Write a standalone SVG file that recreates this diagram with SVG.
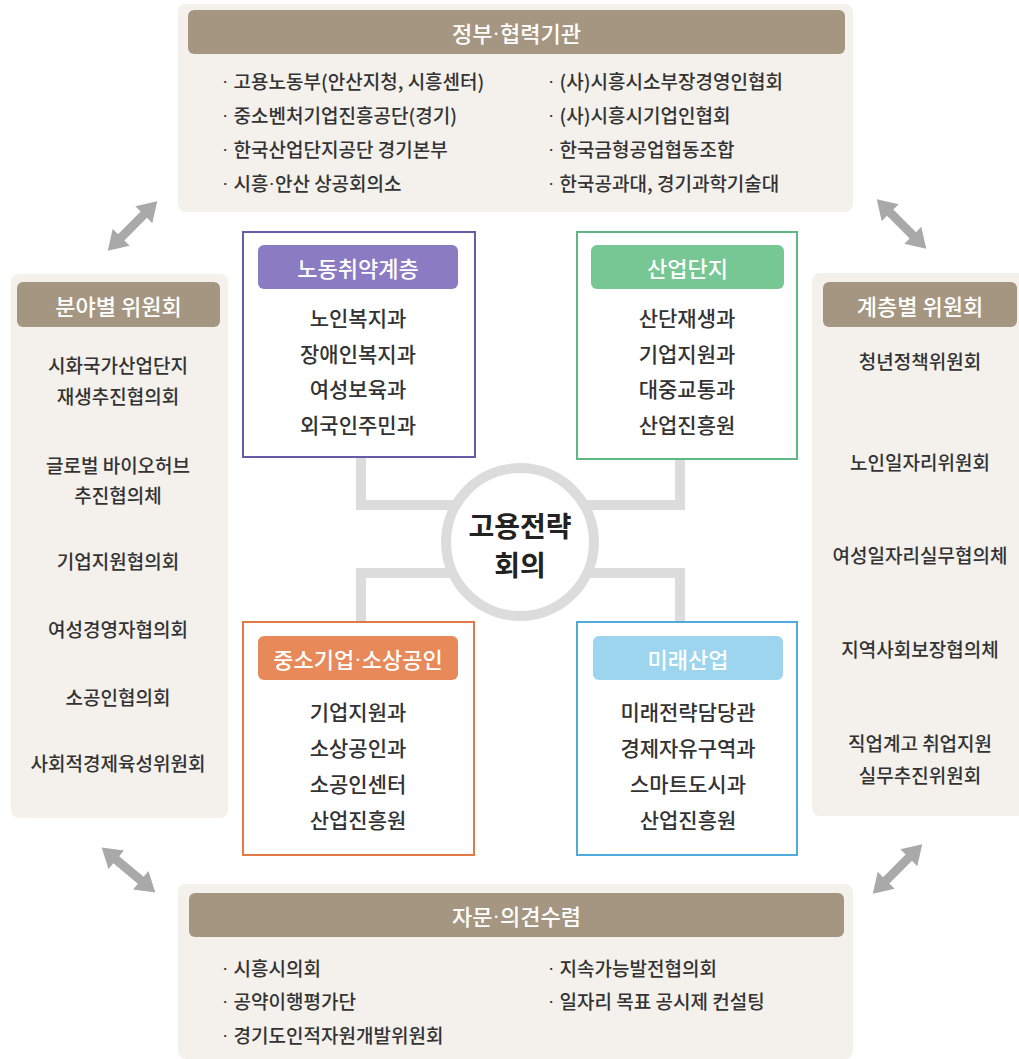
<svg xmlns="http://www.w3.org/2000/svg" width="1019" height="1059" viewBox="0 0 1019 1059">
<defs>
<style>
.panel{fill:#f4f0ec}
.hdr{fill:#a59682}
.ht{font-family:"Noto Sans CJK KR","Noto Sans",sans-serif;font-size:22px;font-weight:500;fill:#fff;text-anchor:middle;dominant-baseline:central}
.li{font-family:"Noto Sans CJK KR","Noto Sans",sans-serif;font-size:19px;font-weight:500;fill:#333;dominant-baseline:central}
.pi{font-family:"Noto Sans CJK KR","Noto Sans",sans-serif;font-size:19px;font-weight:500;fill:#333;text-anchor:middle;dominant-baseline:central}
.bi{font-family:"Noto Sans CJK KR","Noto Sans",sans-serif;font-size:21px;font-weight:500;fill:#333;text-anchor:middle;dominant-baseline:central}
.ct{font-family:"Noto Sans CJK KR","Noto Sans",sans-serif;font-size:28px;font-weight:bold;fill:#222;text-anchor:middle;dominant-baseline:central}
.d{font-family:"Liberation Sans",sans-serif}
.conn{stroke:#dcdcdc;stroke-width:10;fill:none}
.arr{fill:#a9a9a9}
.box{fill:#fff;stroke-width:2}
</style>
<path id="dbl" d="M-35,0 L-16,-12 L-16,-4.5 L16,-4.5 L16,-12 L35,0 L16,12 L16,4.5 L-16,4.5 L-16,12 Z"/>
</defs>
<rect width="1019" height="1059" fill="#fff"/>

<g id="connectors">
<path class="conn" d="M361,457 V505 H520"/>
<path class="conn" d="M680,459 V505 H520"/>
<path class="conn" d="M361,622 V573 H520"/>
<path class="conn" d="M680,622 V573 H520"/>
<use href="#dbl" class="arr" transform="translate(132.5,226) rotate(-45)"/>
<use href="#dbl" class="arr" transform="translate(901.5,224) rotate(45)"/>
<use href="#dbl" class="arr" transform="translate(128.5,870) rotate(40)"/>
<use href="#dbl" class="arr" transform="translate(897.5,869) rotate(-45)"/>
</g>

<g id="gov">
<rect class="panel" x="178" y="4" width="675" height="208" rx="8"/>
<rect class="hdr" x="188" y="10" width="657" height="44" rx="6"/>
<text class="ht" x="516.5" y="32">정부<tspan class="d">·</tspan>협력기관</text>
<text class="li" x="222" y="80"><tspan class="d">· </tspan>고용노동부(안산지청, 시흥센터)</text>
<text class="li" x="222" y="114"><tspan class="d">· </tspan>중소벤처기업진흥공단(경기)</text>
<text class="li" x="222" y="148"><tspan class="d">· </tspan>한국산업단지공단 경기본부</text>
<text class="li" x="222" y="182"><tspan class="d">· </tspan>시흥<tspan class="d">·</tspan>안산 상공회의소</text>
<text class="li" x="548" y="80"><tspan class="d">· </tspan>(사)시흥시소부장경영인협회</text>
<text class="li" x="548" y="114"><tspan class="d">· </tspan>(사)시흥시기업인협회</text>
<text class="li" x="548" y="148"><tspan class="d">· </tspan>한국금형공업협동조합</text>
<text class="li" x="548" y="182"><tspan class="d">· </tspan>한국공과대, 경기과학기술대</text>
</g>

<g id="field">
<rect class="panel" x="11" y="274" width="217" height="544" rx="8"/>
<rect class="hdr" x="17" y="282" width="203" height="45" rx="6"/>
<text class="ht" x="118.5" y="304.5">분야별 위원회</text>
<text class="pi" x="118" y="364">시화국가산업단지</text>
<text class="pi" x="118" y="395">재생추진협의회</text>
<text class="pi" x="118" y="464">글로벌 바이오허브</text>
<text class="pi" x="118" y="494">추진협의체</text>
<text class="pi" x="118" y="560">기업지원협의회</text>
<text class="pi" x="118" y="628">여성경영자협의회</text>
<text class="pi" x="118" y="696">소공인협의회</text>
<text class="pi" x="118" y="762">사회적경제육성위원회</text>
</g>

<g id="tier">
<rect class="panel" x="812" y="273" width="215" height="543" rx="8"/>
<rect class="hdr" x="823" y="282" width="194" height="45" rx="6"/>
<text class="ht" x="920" y="304.5">계층별 위원회</text>
<text class="pi" x="920" y="360">청년정책위원회</text>
<text class="pi" x="920" y="461">노인일자리위원회</text>
<text class="pi" x="920" y="554">여성일자리실무협의체</text>
<text class="pi" x="920" y="648">지역사회보장협의체</text>
<text class="pi" x="920" y="742">직업계고 취업지원</text>
<text class="pi" x="920" y="774">실무추진위원회</text>
</g>

<g id="advice">
<rect class="panel" x="178" y="884" width="675" height="175" rx="8"/>
<rect class="hdr" x="189" y="893" width="655" height="44" rx="6"/>
<text class="ht" x="516.5" y="915">자문<tspan class="d">·</tspan>의견수렴</text>
<text class="li" x="222" y="967"><tspan class="d">· </tspan>시흥시의회</text>
<text class="li" x="222" y="1000"><tspan class="d">· </tspan>공약이행평가단</text>
<text class="li" x="222" y="1034"><tspan class="d">· </tspan>경기도인적자원개발위원회</text>
<text class="li" x="548" y="967"><tspan class="d">· </tspan>지속가능발전협의회</text>
<text class="li" x="548" y="1000"><tspan class="d">· </tspan>일자리 목표 공시제 컨설팅</text>
</g>

<g id="labor">
<rect class="box" x="243" y="232" width="232" height="225" stroke="#6a5ba6"/>
<rect x="258" y="245" width="200" height="44" rx="6" fill="#8a7bc2"/>
<text class="ht" x="358" y="267">노동취약계층</text>
<text class="bi" x="358" y="317">노인복지과</text>
<text class="bi" x="358" y="353">장애인복지과</text>
<text class="bi" x="358" y="388">여성보육과</text>
<text class="bi" x="358" y="424">외국인주민과</text>
</g>

<g id="industrial">
<rect class="box" x="577" y="232" width="220" height="227" stroke="#5db883"/>
<rect x="591" y="245" width="193" height="44" rx="6" fill="#76c794"/>
<text class="ht" x="687.5" y="267">산업단지</text>
<text class="bi" x="687" y="317">산단재생과</text>
<text class="bi" x="687" y="353">기업지원과</text>
<text class="bi" x="687" y="388">대중교통과</text>
<text class="bi" x="687" y="424">산업진흥원</text>
</g>

<g id="sme">
<rect class="box" x="243" y="622" width="231" height="233" stroke="#e07b46"/>
<rect x="258" y="636" width="200" height="44" rx="6" fill="#e8895a"/>
<text class="ht" x="358" y="658">중소기업<tspan class="d">·</tspan>소상공인</text>
<text class="bi" x="358" y="711">기업지원과</text>
<text class="bi" x="358" y="747">소상공인과</text>
<text class="bi" x="358" y="783">소공인센터</text>
<text class="bi" x="358" y="819">산업진흥원</text>
</g>

<g id="future">
<rect class="box" x="577" y="622" width="220" height="233" stroke="#4fabda"/>
<rect x="593" y="636" width="190" height="44" rx="6" fill="#9dd5ee"/>
<text class="ht" x="688" y="658">미래산업</text>
<text class="bi" x="688" y="711">미래전략담당관</text>
<text class="bi" x="688" y="747">경제자유구역과</text>
<text class="bi" x="688" y="783">스마트도시과</text>
<text class="bi" x="688" y="819">산업진흥원</text>
</g>

<g id="center">
<circle cx="520" cy="542" r="74" fill="#fff" stroke="#dcdcdc" stroke-width="10"/>
<text class="ct" x="520" y="525">고용전략</text>
<text class="ct" x="520" y="564">회의</text>
</g>
</svg>
